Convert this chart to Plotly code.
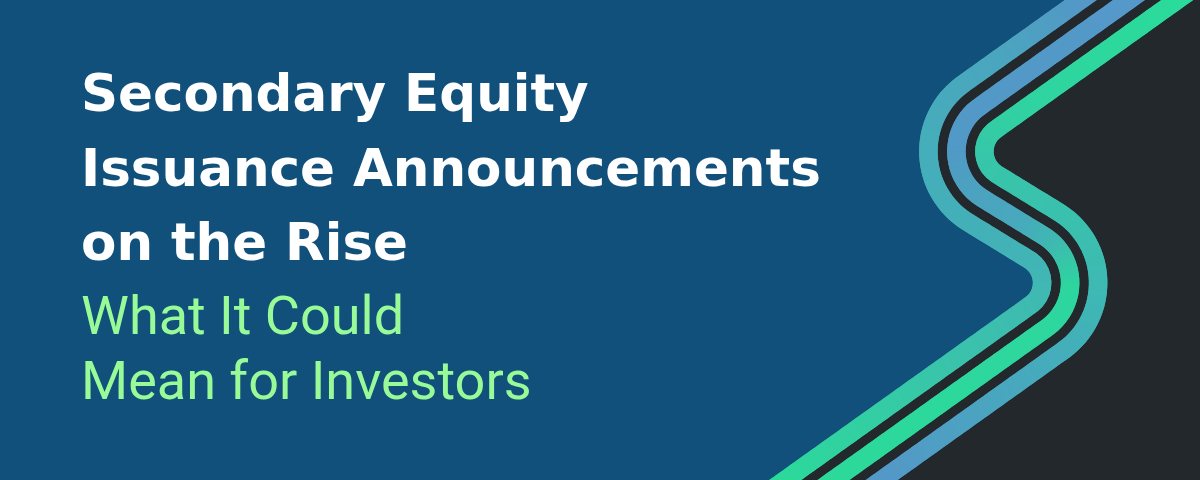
import numpy as np
import plotly.graph_objects as go

W, H = 1200, 480
BG = '#11507B'
DARK = '#23282C'

title_lines = ['Secondary Equity', 'Issuance Announcements', 'on the Rise']
title_baselines = [112, 187, 261]
subtitle_lines = ['What It Could', 'Mean for Investors']
subtitle_baselines = [335, 400]

# centre line of the middle stripe: top (off canvas), left bend, right bend, bottom (off canvas)
stripe_x = [1185.1, 911.7, 1114.8, 777.4]
stripe_y = [-40, 155, 279.3, 520]
stripe_offsets = [28, 0, -28]      # outer/left, middle, inner/right stripe
bend_radius = 55
bend_sign = [1, -1]
stripe_width = 18.5

# colour stops along each stripe (by y)
stops_y = [[0, 60, 150, 230, 290, 380, 480],
           [0, 150, 220, 260, 290, 480],
           [0, 100, 160, 230, 290, 380, 480]]
stops_c = [['#5497C8', '#4AA6BE', '#45AEBB', '#43B0B8', '#40B8B3', '#38C6A9', '#2CD99B'],
           ['#5499C9', '#5199C6', '#48A8BD', '#38C4AA', '#2DD69E', '#2CD99B'],
           ['#2BDB9B', '#2FD4A0', '#37C6A9', '#3BBFAF', '#3DBAB3', '#47A9BD', '#5498C8']]


def hex_rgb(h):
    return [int(h[i:i + 2], 16) for i in (1, 3, 5)]


def colour_at(y, ys, cs):
    rgb = np.array([hex_rgb(c) for c in cs])
    r, g, b = (np.interp(y, ys, rgb[:, k]) for k in range(3))
    return f'rgb({r:.0f},{g:.0f},{b:.0f})'


def offset_line(px, py, s):
    pts = np.column_stack([px, py]).astype(float)
    segs = []
    for i in range(len(pts) - 1):
        d = pts[i + 1] - pts[i]
        d /= np.linalg.norm(d)
        n = np.array([-d[1], d[0]])
        segs.append((pts[i] + s * n, pts[i + 1] + s * n, d))
    out = [segs[0][0]]
    for (a0, a1, da), (b0, b1, db) in zip(segs[:-1], segs[1:]):
        t, u = np.linalg.solve(np.array([da, -db]).T, b0 - a0)
        out.append(a0 + t * da)
    out.append(segs[-1][1])
    return np.array(out), [sg[2] for sg in segs]


def rounded(pts, dirs, radii):
    out = [pts[0]]
    for k in range(1, len(pts) - 1):
        v, din, dout, r = pts[k], dirs[k - 1], dirs[k], radii[k - 1]
        ang = np.arccos(np.clip(np.dot(-din, dout), -1, 1))
        bis = dout - din
        bis /= np.linalg.norm(bis)
        c = v + bis * r / np.sin(ang / 2)
        t1 = v - din * r / np.tan(ang / 2)
        t2 = v + dout * r / np.tan(ang / 2)
        a1 = np.arctan2(*(t1 - c)[::-1])
        a2 = np.arctan2(*(t2 - c)[::-1])
        da = (a2 - a1 + np.pi) % (2 * np.pi) - np.pi
        for a in np.linspace(a1, a1 + da, 30):
            out.append(c + r * np.array([np.cos(a), np.sin(a)]))
    out.append(pts[-1])
    return np.array(out)


def resample(pts, step=5.0):
    seg = np.linalg.norm(np.diff(pts, axis=0), axis=1)
    s = np.concatenate([[0], np.cumsum(seg)])
    ss = np.arange(0, s[-1], step)
    return np.column_stack([np.interp(ss, s, pts[:, 0]), np.interp(ss, s, pts[:, 1])])


def path_str(pts):
    return 'M ' + ' L '.join(f'{x:.2f},{y:.2f}' for x, y in pts) + ' Z'


fig = go.Figure()
shapes = []
bands = []
for off in stripe_offsets:
    pts, dirs = offset_line(stripe_x, stripe_y, off)
    radii = [bend_radius + sg * off for sg in bend_sign]
    bands.append(resample(rounded(pts, dirs, radii)))

# dark area right of the outer stripe
outer = bands[0]
dark = np.vstack([outer, [[1300, 520], [1300, -40]]])
shapes.append(dict(type='path', path=path_str(dark), fillcolor=DARK, line_width=0,
                   xref='x', yref='y'))

for b, band in enumerate(bands):
    tang = np.gradient(band, axis=0)
    tang /= np.linalg.norm(tang, axis=1)[:, None]
    nrm = np.column_stack([-tang[:, 1], tang[:, 0]])
    left = band + nrm * stripe_width / 2
    right = band - nrm * stripe_width / 2
    for i in range(len(band) - 1):
        j = min(i + 2, len(band) - 1)
        quad = np.vstack([left[i:j + 1], right[i:j + 1][::-1]])
        col = colour_at(band[i:j + 1, 1].mean(), stops_y[b], stops_c[b])
        shapes.append(dict(type='path', path=path_str(quad), fillcolor=col, line_width=0,
                           xref='x', yref='y'))

title_size = 51.5
for line, base in zip(title_lines, title_baselines):
    fig.add_annotation(x=79, y=base - 0.36 * title_size, text=line, showarrow=False,
                       xanchor='left', yanchor='middle', xref='x', yref='y',
                       font=dict(family='DejaVu Sans', size=title_size, color='white', weight='bold'))

sub_size = 54
for line, base in zip(subtitle_lines, subtitle_baselines):
    fig.add_annotation(x=79, y=base - 0.36 * sub_size, text=line, showarrow=False,
                       xanchor='left', yanchor='middle', xref='x', yref='y',
                       font=dict(family='Roboto', size=sub_size, color='#98FB98'))

fig.update_layout(width=W, height=H, margin=dict(l=0, r=0, t=0, b=0),
                  paper_bgcolor=BG, plot_bgcolor=BG, shapes=shapes, showlegend=False)
fig.update_xaxes(range=[0, W], visible=False, fixedrange=True)
fig.update_yaxes(range=[H, 0], visible=False, fixedrange=True)
fig.write_html('out.html', config=dict(displayModeBar=False),
               post_script="document.body.style.margin='0';")
